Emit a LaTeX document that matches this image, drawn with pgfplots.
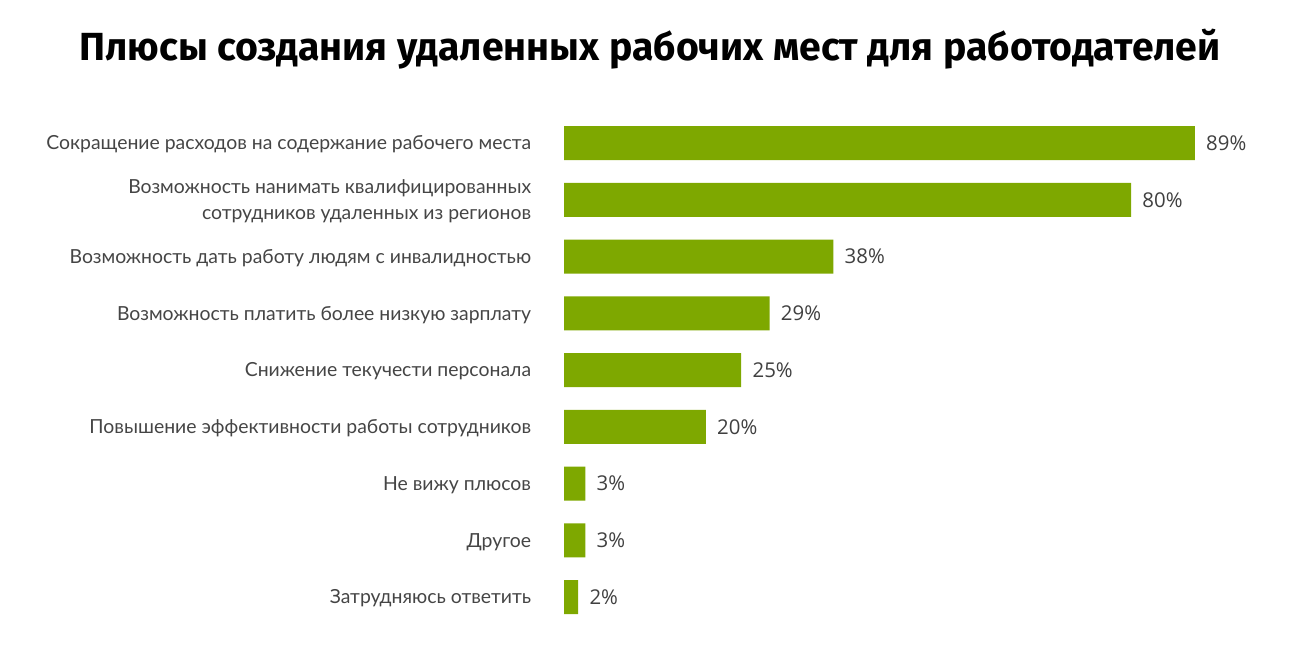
\documentclass[border=0pt]{standalone}
\usepackage{pgfplots}
\pgfplotsset{compat=1.18}
\usepackage{fontspec}
\setmainfont{Lato}
\newfontfamily\titlefont{Fira Sans}
\newfontfamily\valfont{Open Sans}
\definecolor{bargreen}{HTML}{7EA800}
\definecolor{labgray}{HTML}{454545}
\definecolor{valgray}{HTML}{404040}
\begin{document}
\begin{tikzpicture}
\path[use as bounding box] (0,0) rectangle (650pt,-325pt);
\node[font=\titlefont\bfseries\fontsize{19.6}{22}\selectfont, text=black] at (325pt,-24.5pt) {Плюсы создания удаленных рабочих мест для работодателей};
\begin{axis}[
  at={(282pt,-312.7pt)}, anchor=south west,
  scale only axis, width=354.4pt, height=255.4pt,
  xmin=0, xmax=100, ymin=-0.5, ymax=8.5,
  xbar, bar width=17pt, bar shift=0pt,
  axis line style={draw=none}, tick style={draw=none},
  xtick=\empty,
  ytick={0,1,2,3,4,5,6,7,8},
  yticklabels={Затрудняюсь ответить, Другое, Не вижу плюсов, Повышение эффективности работы сотрудников, Снижение текучести персонала, Возможность платить более низкую зарплату, Возможность дать работу людям с инвалидностью, {Возможность нанимать квалифицированных\\сотрудников удаленных из регионов}, Сокращение расходов на содержание рабочего места},
  yticklabel style={font=\fontsize{9.7}{13}\selectfont, text=labgray, align=right, anchor=east, inner sep=0pt, xshift=-12pt, yshift=-0.8pt},
  /pgf/number format/assume math mode=true,
  nodes near coords={\pgfmathprintnumber{\pgfplotspointmeta}\%},
  point meta=x,
  nodes near coords style={font=\valfont\fontsize{10.2}{12}\selectfont, text=valgray, anchor=west, inner sep=0pt, xshift=5.5pt},
  clip=false,
]
\addplot[fill=bargreen, draw=none] coordinates {
 (2,0) (3,1) (3,2) (20,3) (25,4) (29,5) (38,6) (80,7) (89,8)
};
\end{axis}
\end{tikzpicture}
\end{document}
